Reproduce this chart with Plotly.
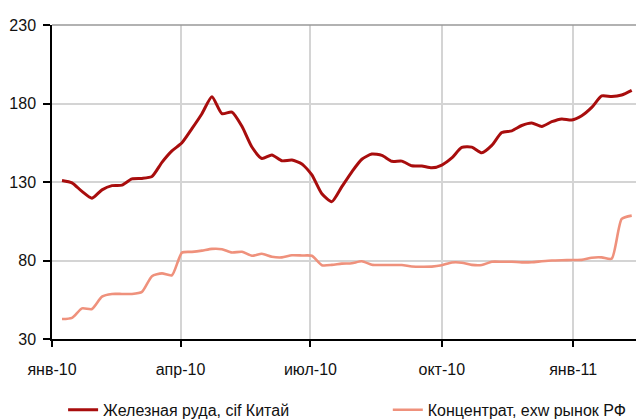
import pandas as pd
import plotly.graph_objects as go

# Weekly price observations, Jan 2010 - Feb 2011
dates = pd.date_range("2010-01-08", periods=58, freq="7D")

iron_ore_cif_china = [
    131.0, 129.5, 124.0, 119.7, 125.0, 127.7, 128.0, 132.0, 132.3, 133.5,
    142.5, 149.8, 155.0, 164.0, 173.5, 184.3, 173.5, 174.5, 165.5, 152.3,
    145.0, 147.2, 143.5, 144.0, 141.5, 134.5, 122.5, 117.5, 127.0, 136.5,
    144.5, 147.8, 147.0, 143.2, 143.3, 140.3, 140.2, 139.0, 140.8, 145.3,
    152.0, 152.2, 148.6, 153.3, 161.5, 162.6, 166.0, 167.6, 165.4, 168.4,
    170.2, 169.5, 172.2, 177.5, 184.8, 184.4, 185.4, 188.4,
]

concentrate_exw_russia = [
    42.7, 43.5, 49.5, 49.1, 57.0, 58.7, 58.7, 58.7, 60.0, 70.0,
    71.8, 70.6, 85.0, 85.5, 86.3, 87.4, 87.2, 85.1, 85.6, 83.0,
    84.3, 82.4, 82.0, 83.3, 83.2, 83.0, 77.0, 77.2, 78.0, 78.3,
    79.5, 77.3, 77.1, 77.1, 77.1, 76.2, 76.0, 76.1, 77.0, 78.7,
    78.6, 77.2, 77.1, 79.2, 79.2, 79.2, 78.8, 78.9, 79.5, 80.0,
    80.2, 80.3, 80.4, 81.8, 82.0, 81.2, 106.5, 108.6,
]

tick_dates = ["2010-01-01", "2010-04-01", "2010-07-01", "2010-10-01", "2011-01-01"]
tick_labels = ["янв-10", "апр-10", "июл-10", "окт-10", "янв-11"]
y_ticks = [30, 80, 130, 180, 230]

FONT = "Liberation Sans, Arial, sans-serif"
TEXT = "#111111"

fig = go.Figure()
fig.add_trace(go.Scatter(
    x=dates, y=iron_ore_cif_china, mode="lines",
    name="Железная руда, cif Китай",
    line=dict(color="#a80d0d", width=3, shape="spline", smoothing=0.6),
    legend="legend",
))
fig.add_trace(go.Scatter(
    x=dates, y=concentrate_exw_russia, mode="lines",
    name="Концентрат, exw рынок РФ",
    line=dict(color="#ef917c", width=2.6, shape="spline", smoothing=0.6),
    legend="legend2",
))

legend_common = dict(
    orientation="h", yanchor="middle", xanchor="left", yref="container",
    font=dict(family=FONT, size=16, color=TEXT),
    bgcolor="rgba(0,0,0,0)", borderwidth=0, itemwidth=30,
)

fig.update_layout(
    width=636, height=419,
    margin=dict(l=52, r=0, t=25, b=80, autoexpand=False),
    paper_bgcolor="white", plot_bgcolor="white",
    font=dict(family=FONT, size=16, color=TEXT),
    showlegend=True,
    legend=dict(x=0.019, y=0.022, **legend_common),
    legend2=dict(x=0.575, y=0.022, **legend_common),
    xaxis=dict(
        type="date",
        range=["2010-01-01", "2011-02-14"],
        tickvals=tick_dates, ticktext=tick_labels,
        showgrid=True, gridcolor="#d4d4d4", gridwidth=1.5,
        showline=True, linecolor="black", linewidth=1.5,
        ticks="outside", ticklen=6, tickcolor="black", tickwidth=1.5,
        ticklabelstandoff=9, automargin=False,
        tickfont=dict(family=FONT, size=16, color=TEXT),
        zeroline=False,
    ),
    yaxis=dict(
        range=[30, 230],
        tickvals=y_ticks,
        showgrid=True, gridcolor="#d4d4d4", gridwidth=1.5,
        showline=True, linecolor="black", linewidth=1.5,
        ticks="outside", ticklen=7, tickcolor="black", tickwidth=1.5,
        ticklabelstandoff=4, automargin=False,
        tickfont=dict(family=FONT, size=16, color=TEXT),
        zeroline=False,
    ),
)

# gray border along the top of the plotting area
fig.add_shape(type="line", xref="paper", yref="paper", x0=0, x1=1, y0=1, y1=1,
              line=dict(color="#999999", width=1.5))

fig.write_html("out.html")
